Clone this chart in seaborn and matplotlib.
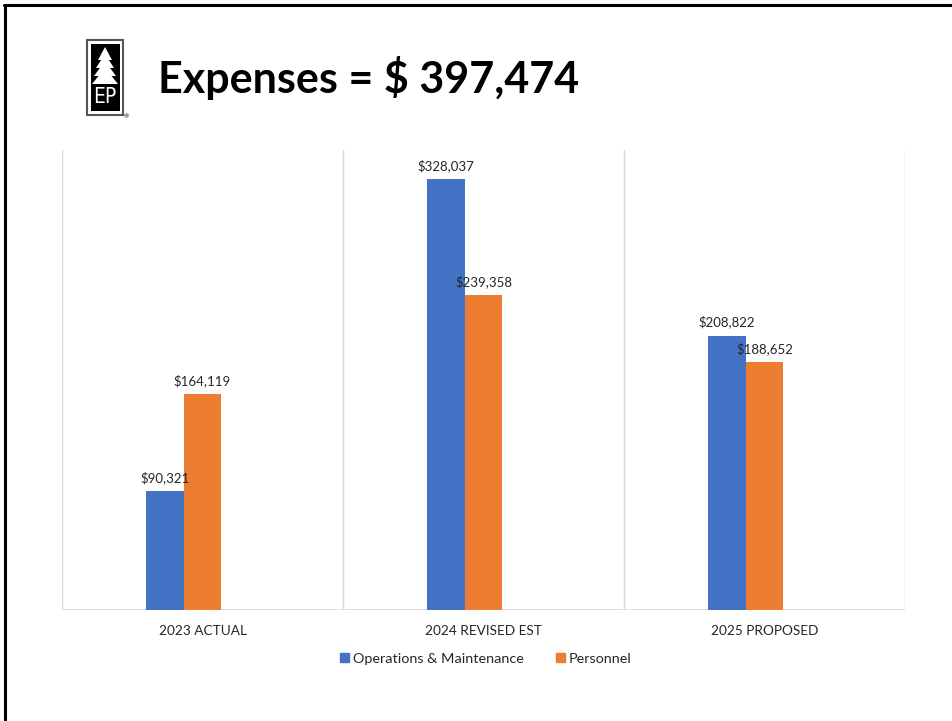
import matplotlib
matplotlib.use("Agg")
import matplotlib.pyplot as plt
from matplotlib.patches import Rectangle, Polygon
from matplotlib.lines import Line2D
import seaborn as sns
import pandas as pd

# Budget figures by year
categories = ["2023 ACTUAL", "2024 REVISED EST", "2025 PROPOSED"]
om_values = [90321, 328037, 208822]
personnel_values = [164119, 239358, 188652]
series_names = ["Operations & Maintenance", "Personnel"]
title_text = "Expenses = $ 397,474"

blue = "#4472C4"
orange = "#ED7D31"

df = pd.DataFrame({
    "year": categories * 2,
    "series": [series_names[0]] * 3 + [series_names[1]] * 3,
    "value": om_values + personnel_values,
})

sns.set_theme(style="white")
plt.rcParams["font.family"] = ["Lato", "DejaVu Sans"]

fig = plt.figure(figsize=(9.52, 7.21), dpi=100)
ax = fig.add_axes([62 / 952, 111 / 721, 843 / 952, 460 / 721])

bar_w = 0.1335
sns.barplot(data=df, x="year", y="value", hue="series", order=categories,
            hue_order=series_names, palette=[blue, orange], width=2 * bar_w,
            saturation=1, ax=ax, legend=False, errorbar=None, linewidth=0)

shift = bar_w / 2
ax.set_xlim(-0.5 + shift, 2.5 + shift)
ax.set_ylim(0, 350000)

# Category separators
for j in range(4):
    ax.axvline(-0.5 + shift + j, color="#d9d9d9", lw=1, zorder=0)
for s in ax.spines.values():
    s.set_visible(False)
ax.axhline(0, color="#d9d9d9", lw=1.2, zorder=0.5)

ax.set_yticks([])
ax.set_xticks([k + shift for k in range(3)])
ax.set_xticklabels(categories, fontsize=9.8, color="#262626")
ax.tick_params(axis="x", length=0, pad=11)
ax.set_xlabel("")
ax.set_ylabel("")

# Value labels above each bar
for cont in ax.containers:
    for rect in cont:
        h = rect.get_height()
        ax.annotate(f"${h:,.0f}", (rect.get_x() + rect.get_width() / 2, h),
                    xytext=(0, 5), textcoords="offset points",
                    ha="center", va="bottom", fontsize=9.5, color="#262626")

# Legend
handles = [Rectangle((0, 0), 1, 1, color=blue), Rectangle((0, 0), 1, 1, color=orange)]
fig.legend(handles, series_names, loc="center", bbox_to_anchor=(486 / 952, 1 - 659 / 721),
           ncol=2, frameon=False, fontsize=10.4, handlelength=0.6, handleheight=0.6,
           handletextpad=0.3, columnspacing=2.2, labelcolor="#262626")

# Title
fig.text(158 / 952, 1 - 78 / 721, title_text, fontsize=31, fontweight="bold",
         color="black", va="center", ha="left")

# Logo
lx0, ly0 = 87 / 952, 1 - 115 / 721
lw_, lh_ = 36 / 952, 75 / 721
fig.patches.append(Rectangle((lx0, ly0), lw_, lh_, transform=fig.transFigure,
                             facecolor="white", edgecolor="#555555", lw=1.5))
fig.patches.append(Rectangle((lx0 + 3.5 / 952, ly0 + 4 / 721), 29 / 952, 67 / 721,
                             transform=fig.transFigure, facecolor="black", edgecolor="none"))
cx = lx0 + lw_ / 2
for top, base, half in [(47, 60, 7), (54, 68, 9), (61, 76, 11), (68, 84, 13)]:
    fig.patches.append(Polygon([(cx, 1 - top / 721), (cx - half / 952, 1 - base / 721),
                                (cx + half / 952, 1 - base / 721)],
                               transform=fig.transFigure, facecolor="white", edgecolor="none"))
fig.text(cx, 1 - 97 / 721, "EP", fontsize=15, color="white", ha="center", va="center",
         family=["DejaVu Sans"], fontstretch="condensed")
fig.text(lx0 + lw_ + 3 / 952, ly0 - 2 / 721, "®", fontsize=4.5, color="black", ha="center", va="center")

# Slide frame
fig.add_artist(Line2D([4 / 952, 1], [1 - 5 / 721, 1 - 5 / 721], transform=fig.transFigure,
                      color="black", lw=2.2))
fig.add_artist(Line2D([5 / 952, 5 / 952], [0, 1 - 5 / 721], transform=fig.transFigure,
                      color="black", lw=2.2))

fig.savefig("out.png", dpi=100, facecolor="white")
